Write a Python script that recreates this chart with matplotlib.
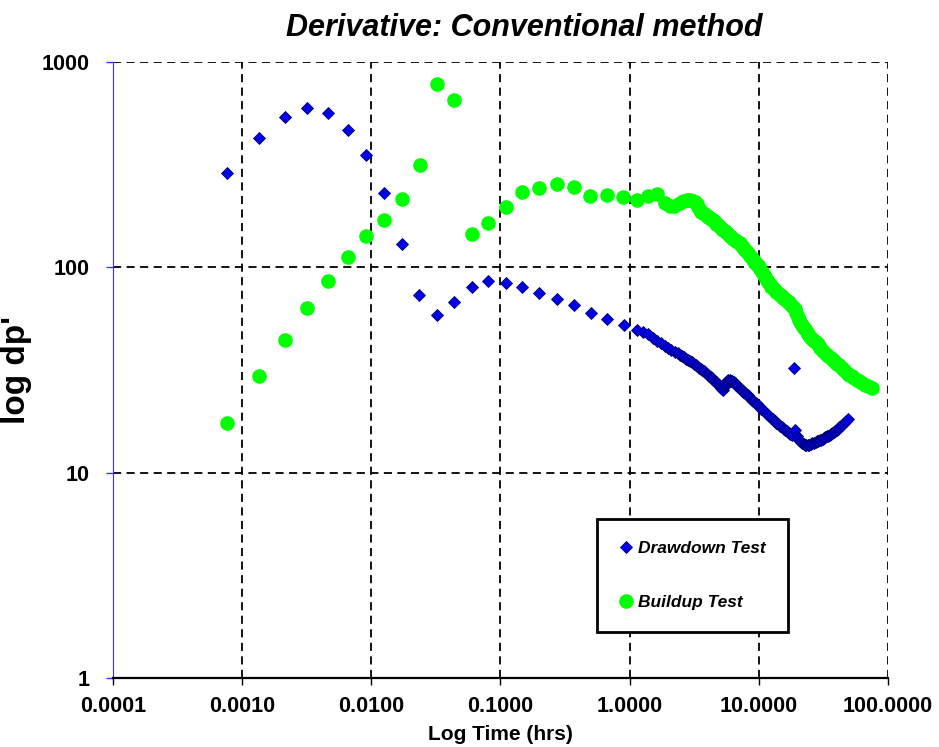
import matplotlib
matplotlib.use('Agg')
import matplotlib.pyplot as plt
from matplotlib.ticker import FixedLocator, FuncFormatter, NullLocator

# drawdown test derivative (hrs, psi)
dd_time = [0.000757, 0.00134, 0.00213, 0.00317, 0.0046, 0.00656, 0.00914,
           0.01265, 0.0173, 0.0236, 0.0321, 0.0439, 0.0597, 0.0807, 0.110,
           0.148, 0.200, 0.273, 0.368, 0.501, 0.67, 0.90,
           1.14, 1.26, 1.39, 1.51, 1.63, 1.75, 1.87, 1.99, 2.11, 2.24, 2.37,
           2.46, 2.55, 2.65, 2.75, 2.85, 2.95, 3.05, 3.15, 3.25, 3.35, 3.45,
           3.55, 3.65, 3.75, 3.85, 3.95, 4.05, 4.15, 4.25, 4.35, 4.45, 4.55,
           4.65, 4.75, 4.85, 4.95, 5.05, 5.14, 5.22, 5.3, 5.38, 5.45, 5.52,
           5.6, 5.7, 5.78, 6.0, 6.12, 6.25, 6.38, 6.5, 6.65, 6.8, 6.95, 7.1,
           7.25, 7.4, 7.6, 7.8, 8.0, 8.2, 8.4, 8.6, 8.8, 9.0, 9.25, 9.5, 9.7,
           9.9, 10.2, 10.5, 10.85, 11.2, 11.6, 12.0, 12.4, 12.8, 13.25, 13.7,
           14.15, 14.6, 15.1, 15.6, 16.1, 16.6, 17.1, 17.6, 18.1, 18.7, 19.2,
           19.7, 20.2, 20.7, 21.3, 21.8, 22.4, 22.9, 23.4, 24.0, 24.6, 25.3,
           26.0, 26.7, 27.5, 28.2, 29.0, 29.7, 30.5, 31.2, 32.0, 32.8, 33.6,
           34.4, 35.3, 36.1, 37.0, 38.0, 39.0, 40.0, 41.0, 42.1, 43.2, 44.3,
           45.5, 47.2, 49.0]
dd_deriv = [289, 427, 539, 594, 566, 468, 352,
            229, 130, 73.6, 58.3, 67.6, 80, 85.5, 84.2,
            80.5, 75.2, 69.8, 65.3, 60.1, 55.8, 52.6,
            49.5, 48.3, 47.2, 45.5, 43.9, 42.6, 41.4, 40.5, 39.6, 38.8, 38.1,
            37.5, 37.0, 36.4, 35.9, 35.4, 34.9, 34.4, 33.9, 33.4, 33.0, 32.5,
            32.1, 31.6, 31.2, 30.8, 30.4, 30.0, 29.6, 29.2, 28.8, 28.4, 28.0,
            27.6, 27.3, 26.9, 26.6, 26.2, 25.9, 25.6, 25.3, 26.0, 26.6, 27.1,
            27.6, 28.0, 28.3, 28.4, 28.1, 27.8, 27.5, 27.2, 26.8, 26.5, 26.1, 25.8,
            25.5, 25.2, 24.8, 24.5, 24.1, 23.8, 23.4, 23.0, 22.6, 22.3, 22.0, 21.8, 21.5,
            21.3, 20.9, 20.5, 20.1, 19.7, 19.3, 18.9, 18.5, 18.2, 17.8, 17.5,
            17.2, 16.9, 16.6, 16.4, 16.1, 15.9, 15.6, 15.4, 15.2, 32.3, 16.1,
            15.0, 14.6, 14.3, 14.1, 13.9, 13.8, 13.7, 13.6, 13.6, 13.7, 13.8,
            13.9, 14.0, 14.1, 14.2, 14.3, 14.4, 14.5, 14.6, 14.7, 14.85, 15.0,
            15.15, 15.3, 15.45, 15.6, 15.8, 16.0, 16.2, 16.4, 16.65, 16.9, 17.15,
            17.4, 17.8, 18.2]

# buildup test derivative (hrs, psi)
bu_time = [0.000757, 0.00134, 0.00213, 0.00318, 0.00462, 0.00656, 0.00914,
           0.01265, 0.0173, 0.0237, 0.0322, 0.0439, 0.0597, 0.0807, 0.110,
           0.148, 0.200, 0.273, 0.368, 0.49, 0.67, 0.89, 1.14, 1.39, 1.64,
           1.88, 2.05, 2.22, 2.45, 2.6, 2.76, 2.93,
           3.1, 3.2, 3.3, 3.4, 3.5, 3.6, 3.7, 3.82, 3.95, 4.07, 4.2, 4.3, 4.4,
           4.55, 4.7, 4.85, 5.0, 5.15, 5.3, 5.45, 5.6, 5.78, 5.95, 6.12, 6.3,
           6.5, 6.7, 6.9, 7.1, 7.3, 7.5, 7.75, 8.0, 8.25, 8.5, 8.8, 9.1, 9.35,
           9.6, 9.8, 10.0, 10.3, 10.6, 10.9, 11.2, 11.5, 11.8, 12.15, 12.5,
           12.9, 13.3, 13.7, 14.1, 14.55, 15.0, 15.5, 16.0, 16.5, 17.0, 17.5,
           18.0, 18.5, 19.0, 19.5, 20.0, 20.5, 21.0, 21.5, 22.0, 22.7, 23.5,
           24.2, 25.0, 25.9, 26.9, 27.7, 28.5, 29.2, 30.0, 31.5, 33.0, 34.5,
           36.0, 37.5, 39.0, 40.5, 42.0, 44.0, 46.0, 48.0, 50.0, 52.5, 55.0,
           57.5, 60.0, 63.0, 66.0, 70.0, 74.8]
bu_deriv = [17.5, 29.6, 44.3, 63.1, 85.5, 112, 142,
            170, 214, 314, 779, 655, 145, 164, 197,
            233, 243, 255, 247, 222, 225, 220, 213, 223, 228,
            205, 200, 198, 205, 210, 213, 212,
            211, 208, 203, 196, 190, 187, 184, 181, 178, 175, 173, 171.5, 170,
            166, 163, 160, 157, 154.5, 152, 150, 148, 145, 142, 140, 138,
            136, 134, 132.5, 131, 128.5, 126, 123, 120, 117, 114, 111.5, 109, 106.5,
            104, 102.3, 100.7, 97.8, 95, 92.2, 89.5, 87.2, 85, 82.7, 80.5,
            79, 77.5, 76.2, 75, 73.7, 72.5, 71.2, 70, 68.7, 67.5, 66.2,
            65, 63.8, 62.5, 60, 57.5, 55.7, 54, 52.6, 51.4, 50, 48.5,
            47.2, 46, 45, 44, 43.2, 42.5, 41.5, 40.5, 39.2, 38, 37,
            36, 35.2, 34.5, 33.9, 33.3, 32.4, 31.5, 30.7, 30, 29.4, 28.8,
            28.3, 27.8, 27.3, 26.8, 26.3, 25.8]

x_ticks = [0.0001, 0.001, 0.01, 0.1, 1, 10, 100]
y_ticks = [1, 10, 100, 1000]

fig = plt.figure(figsize=(9.39, 7.47), dpi=100)
ax = fig.add_axes([0.1203, 0.0924, 0.8253, 0.8246])

ax.plot(dd_time, dd_deriv, linestyle='none', marker='D', markersize=6.2,
        markerfacecolor='#0000e6', markeredgecolor='#00006e',
        markeredgewidth=0.6, label='Drawdown Test', zorder=3)
ax.plot(bu_time, bu_deriv, linestyle='none', marker='o', markersize=10.5,
        markerfacecolor='#00ff00', markeredgecolor='#00ff00',
        markeredgewidth=0, label='Buildup Test', zorder=3)

ax.set_xscale('log')
ax.set_yscale('log')
ax.set_xlim(0.0001, 100)
ax.set_ylim(1, 1000)

ax.xaxis.set_major_locator(FixedLocator(x_ticks))
ax.yaxis.set_major_locator(FixedLocator(y_ticks))
ax.xaxis.set_minor_locator(NullLocator())
ax.yaxis.set_minor_locator(NullLocator())
ax.xaxis.set_major_formatter(FuncFormatter(lambda v, p: '%.4f' % v))
ax.yaxis.set_major_formatter(FuncFormatter(lambda v, p: '%d' % v))

ax.grid(True, color='black', linestyle=(0, (4.5, 3)), linewidth=1.3, zorder=1)
ax.set_axisbelow(True)

for s in ('top', 'right'):
    ax.spines[s].set_visible(False)
ax.spines['left'].set_color('#3333ff')
ax.spines['left'].set_linewidth(0.8)
ax.spines['bottom'].set_color('black')
ax.spines['bottom'].set_linewidth(1.6)

ax.tick_params(axis='x', direction='out', length=5, width=1, color='black', pad=8)
ax.tick_params(axis='y', direction='out', length=5, width=1, color='#3333ff', pad=12)
for lbl in ax.get_xticklabels() + ax.get_yticklabels():
    lbl.set_fontfamily('Liberation Sans')
    lbl.set_fontweight('bold')
    lbl.set_fontsize(15.5)

ax.set_xlabel('Log Time (hrs)', fontfamily='Liberation Sans', fontweight='bold',
              fontsize=15, labelpad=6)
ax.set_ylabel("log dp'", fontfamily='Liberation Sans', fontweight='bold',
              fontsize=24)
ax.yaxis.set_label_coords(-0.105, 0.5)

fig.text(0.558, 0.962, 'Derivative: Conventional method',
         family='Liberation Sans', fontweight='bold', fontstyle='italic',
         fontsize=22, ha='center', va='center')

leg = ax.legend(loc='lower left', bbox_to_anchor=(0.6245, 0.0747),
                borderaxespad=0, frameon=True, fancybox=False, shadow=False,
                labelspacing=2.22, borderpad=1.28, handlelength=0.8,
                handletextpad=0.3,
                prop={'family': 'Liberation Sans', 'weight': 'bold',
                      'style': 'italic', 'size': 12.5})
leg.get_frame().set_edgecolor('black')
leg.get_frame().set_linewidth(2)
leg.get_frame().set_alpha(1)

fig.savefig('out.png', dpi=100)
